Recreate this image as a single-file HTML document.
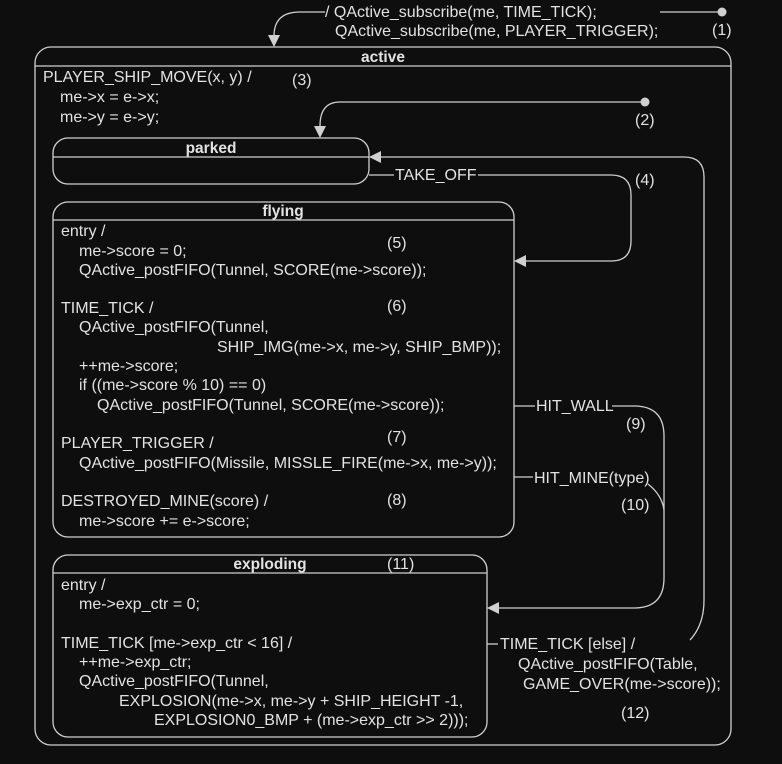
<!DOCTYPE html>
<html><head><meta charset="utf-8"><style>
html,body{margin:0;padding:0;background:#0e0e0e;}
svg{display:block}
text{font-family:"Liberation Sans",Arial,sans-serif;font-size:16px;fill:#e2e2e2;}
.b{font-weight:bold;font-size:15.5px;}
</style></head><body>
<svg width="782" height="764" viewBox="0 0 782 764">
<g fill="none" stroke="#d0d0d0" stroke-width="1.3">
<rect x="35" y="47" width="696" height="698" rx="16"/>
<line x1="35" y1="66" x2="731" y2="66"/>
<rect x="53" y="138" width="316" height="46" rx="15"/>
<line x1="53" y1="157" x2="369" y2="157"/>
<rect x="53" y="202" width="461" height="335" rx="15"/>
<line x1="53" y1="220" x2="514" y2="220"/>
<rect x="53" y="555" width="434" height="182" rx="15"/>
<line x1="53" y1="573" x2="487" y2="573"/>
<line x1="660" y1="12" x2="722" y2="12"/>
<path d="M325 12 H300 Q274 12 274 36"/>
<path d="M645 102 H340 Q320 102 320 126"/>
<path d="M369 175 H394 M478 175 H611 Q631 175 631 195 V241 Q631 261 611 261 H526"/>
<path d="M690 640 Q704 625 704 600 V177 Q704 157 684 157 H381"/>
<path d="M514 406 H535 M612 406 H634 Q664 406 664 436 V578 Q664 608 634 608 H499"/>
<path d="M514 477 H533 M648 484 Q662 495 664 510"/>
<path d="M487 644 H498"/>
</g>
<g fill="#d0d0d0">
<circle cx="722" cy="12" r="4.5"/>
<circle cx="645" cy="102" r="4.5"/>
<polygon points="268,35 280,35 274,47"/>
<polygon points="314,126 326,126 320,138"/>
<polygon points="369,157 381,151 381,163"/>
<polygon points="514,261 526,255 526,267"/>
<polygon points="487,608 499,602 499,614"/>
</g>
<text x="325" y="17">/ QActive_subscribe(me, TIME_TICK);</text>
<text x="335" y="36">QActive_subscribe(me, PLAYER_TRIGGER);</text>
<text x="712" y="35">(1)</text>
<text x="383" y="62" class="b" text-anchor="middle">active</text>
<text x="43" y="82">PLAYER_SHIP_MOVE(x, y) /</text>
<text x="292" y="85">(3)</text>
<text x="60" y="102">me-&gt;x = e-&gt;x;</text>
<text x="60" y="122">me-&gt;y = e-&gt;y;</text>
<text x="635" y="125">(2)</text>
<text x="211" y="153" class="b" text-anchor="middle">parked</text>
<text x="395" y="180">TAKE_OFF</text>
<text x="635" y="185">(4)</text>
<text x="283" y="216" class="b" text-anchor="middle">flying</text>
<text x="61" y="236">entry /</text>
<text x="79" y="256">me-&gt;score = 0;</text>
<text x="387" y="248">(5)</text>
<text x="79" y="275">QActive_postFIFO(Tunnel, SCORE(me-&gt;score));</text>
<text x="61" y="313">TIME_TICK /</text>
<text x="387" y="311">(6)</text>
<text x="79" y="332">QActive_postFIFO(Tunnel,</text>
<text x="217" y="352">SHIP_IMG(me-&gt;x, me-&gt;y, SHIP_BMP));</text>
<text x="79" y="371">++me-&gt;score;</text>
<text x="79" y="390">if ((me-&gt;score % 10) == 0)</text>
<text x="97" y="410">QActive_postFIFO(Tunnel, SCORE(me-&gt;score));</text>
<text x="61" y="448">PLAYER_TRIGGER /</text>
<text x="387" y="442">(7)</text>
<text x="79" y="468">QActive_postFIFO(Missile, MISSLE_FIRE(me-&gt;x, me-&gt;y));</text>
<text x="61" y="506">DESTROYED_MINE(score) /</text>
<text x="387" y="505">(8)</text>
<text x="79" y="526">me-&gt;score += e-&gt;score;</text>
<text x="536" y="411">HIT_WALL</text>
<text x="626" y="429">(9)</text>
<text x="534" y="483">HIT_MINE(type)</text>
<text x="621" y="510">(10)</text>
<text x="270" y="569" class="b" text-anchor="middle">exploding</text>
<text x="387" y="569">(11)</text>
<text x="61" y="590">entry /</text>
<text x="79" y="609">me-&gt;exp_ctr = 0;</text>
<text x="61" y="648">TIME_TICK [me-&gt;exp_ctr &lt; 16] /</text>
<text x="79" y="667">++me-&gt;exp_ctr;</text>
<text x="79" y="686">QActive_postFIFO(Tunnel,</text>
<text x="119" y="706">EXPLOSION(me-&gt;x, me-&gt;y + SHIP_HEIGHT -1,</text>
<text x="154" y="725">EXPLOSION0_BMP + (me-&gt;exp_ctr &gt;&gt; 2)));</text>
<text x="500" y="649">TIME_TICK [else] /</text>
<text x="518" y="669">QActive_postFIFO(Table,</text>
<text x="523" y="689">GAME_OVER(me-&gt;score));</text>
<text x="621" y="718">(12)</text>
</svg>
</body></html>
